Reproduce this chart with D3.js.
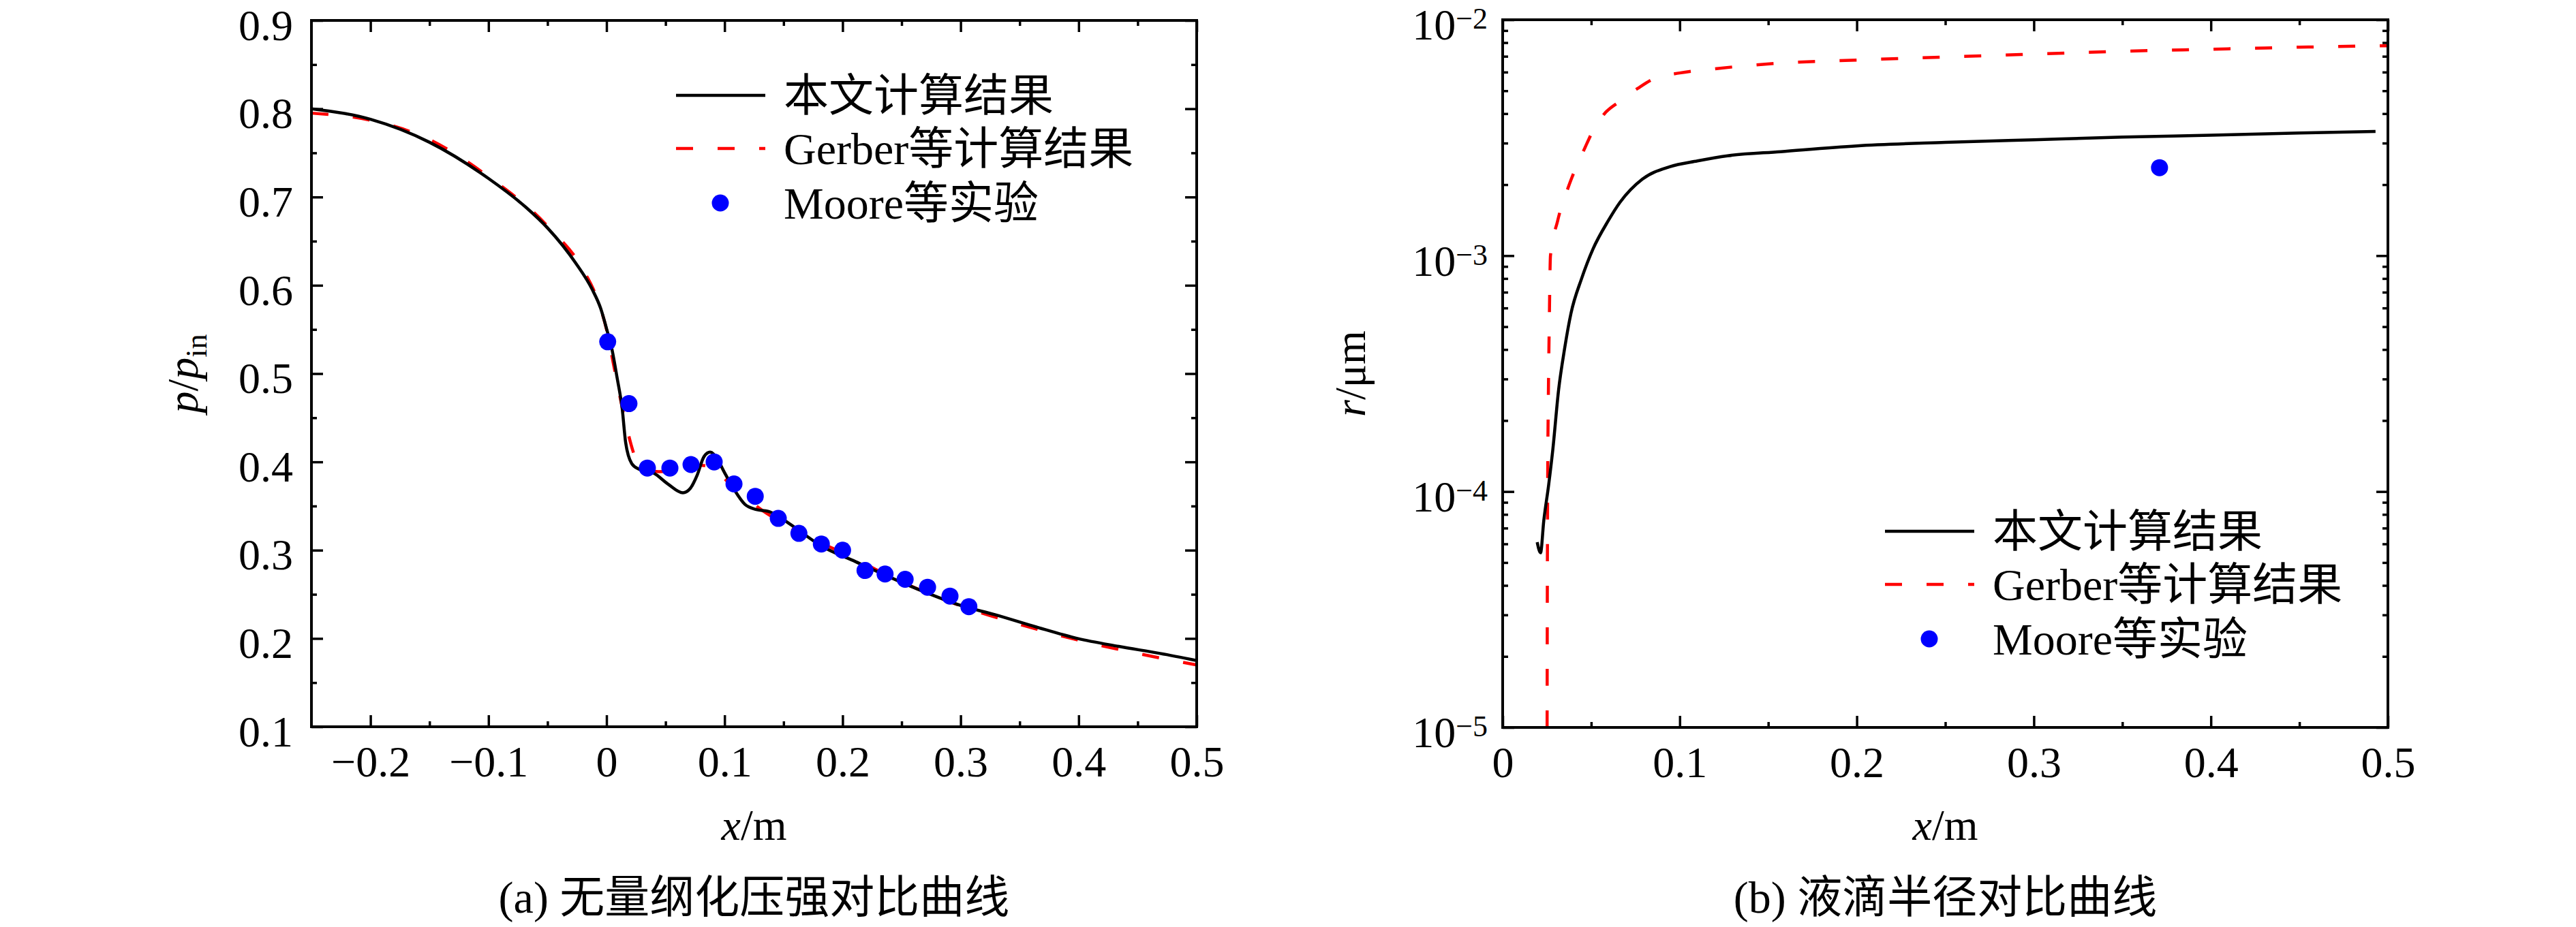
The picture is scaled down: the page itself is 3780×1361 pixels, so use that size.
<!DOCTYPE html>
<html>
<head>
<meta charset="utf-8">
<script src="https://cdn.jsdelivr.net/npm/d3@7"></script>
<style>
  body { margin: 0; background: #fff; }
  svg { display: block; }
  text { font-family: "Liberation Serif", "Times New Roman", "Noto Sans CJK SC", serif; fill: #000; }
</style>
</head>
<body>
<svg id="chart" width="3780" height="1361"></svg>
<script>
// legend names
const seriesNames = ["本文计算结果", "Gerber等计算结果", "Moore等实验"];

// (a) p/p_in along x (m)
const pressureOurs = [
  [-0.25, 0.800], [-0.2, 0.788], [-0.15, 0.762], [-0.1, 0.721], [-0.068, 0.688], [-0.05, 0.665],
  [-0.026, 0.625], [-0.012, 0.595], [-0.005, 0.574], [0, 0.551], [0.005, 0.525], [0.009, 0.495],
  [0.0133, 0.46], [0.0162, 0.422], [0.0214, 0.398], [0.0271, 0.392], [0.0404, 0.387], [0.052, 0.375],
  [0.0647, 0.365], [0.071, 0.370], [0.0768, 0.385], [0.0826, 0.406], [0.0878, 0.411], [0.0935, 0.404],
  [0.0999, 0.388], [0.108, 0.369], [0.1172, 0.352], [0.127, 0.346], [0.1368, 0.344], [0.146, 0.338],
  [0.156, 0.329], [0.183, 0.304], [0.211, 0.287], [0.239, 0.270], [0.267, 0.254], [0.301, 0.237],
  [0.329, 0.227], [0.364, 0.213], [0.399, 0.200], [0.434, 0.191], [0.469, 0.183], [0.5, 0.175]
];
const pressureGerber = [
  [-0.25, 0.795], [-0.2, 0.787], [-0.15, 0.765], [-0.1, 0.723], [-0.05, 0.667], [-0.02, 0.618],
  [-0.008, 0.585], [0, 0.55], [0.006, 0.51], [0.0144, 0.455], [0.0243, 0.405], [0.0296, 0.392],
  [0.0444, 0.389], [0.06, 0.39], [0.0808, 0.396], [0.09, 0.393], [0.097, 0.385], [0.108, 0.370],
  [0.1137, 0.364], [0.131, 0.346], [0.14, 0.338], [0.16, 0.322], [0.2, 0.297], [0.25, 0.264],
  [0.3, 0.237], [0.35, 0.216], [0.4, 0.198], [0.45, 0.183], [0.5, 0.170]
];
const pressureMoore = [
  [0.001, 0.536], [0.019, 0.466], [0.0346, 0.393], [0.0537, 0.393], [0.0716, 0.397], [0.0912, 0.400],
  [0.108, 0.375], [0.126, 0.361], [0.1455, 0.336], [0.163, 0.319], [0.182, 0.307], [0.2, 0.300],
  [0.219, 0.277], [0.236, 0.273], [0.253, 0.267], [0.272, 0.258], [0.291, 0.248], [0.307, 0.236]
];

// (b) droplet radius r along x (m)
const radiusOurs = [
  [0.0195, 6.1e-5], [0.0214, 5.5e-5], [0.0232, 7.5e-5], [0.026, 1.07e-4], [0.0283, 1.5e-4],
  [0.0316, 2.7e-4], [0.0349, 4.0e-4], [0.0386, 5.7e-4], [0.0446, 8.0e-4], [0.0511, 1.07e-3],
  [0.0595, 1.4e-3], [0.0662, 1.68e-3], [0.0789, 2.11e-3], [0.0943, 2.38e-3], [0.11, 2.52e-3],
  [0.127, 2.65e-3], [0.157, 2.76e-3], [0.2, 2.92e-3], [0.25, 3.02e-3], [0.3, 3.1e-3],
  [0.35, 3.18e-3], [0.4, 3.24e-3], [0.45, 3.31e-3], [0.493, 3.36e-3]
];
const radiusGerber = [
  [0.0251, 1e-5], [0.0252, 3e-5], [0.0254, 1e-4], [0.0258, 2.5e-4], [0.0263, 5e-4], [0.027, 1e-3],
  [0.031, 1.4e-3], [0.0377, 2.01e-3], [0.0466, 2.88e-3], [0.0508, 3.36e-3], [0.0574, 3.99e-3],
  [0.0654, 4.47e-3], [0.0762, 5.11e-3], [0.0858, 5.64e-3], [0.1, 5.95e-3], [0.12, 6.2e-3],
  [0.157, 6.55e-3], [0.2, 6.75e-3], [0.25, 6.95e-3], [0.3, 7.15e-3], [0.35, 7.35e-3],
  [0.4, 7.5e-3], [0.45, 7.65e-3], [0.5, 7.76e-3]
];
const radiusMoore = [[0.371, 2.36e-3]];

// ticks
const pressureXTicks = [-0.2, -0.1, 0, 0.1, 0.2, 0.3, 0.4, 0.5];
const pressureXMinor = [-0.15, -0.05, 0.05, 0.15, 0.25, 0.35, 0.45];
const pressureYTicks = [0.1, 0.2, 0.3, 0.4, 0.5, 0.6, 0.7, 0.8, 0.9];
const pressureYMinor = [0.15, 0.25, 0.35, 0.45, 0.55, 0.65, 0.75, 0.85];
const radiusXTicks = [0, 0.1, 0.2, 0.3, 0.4, 0.5];
const radiusXMinor = [0.05, 0.15, 0.25, 0.35, 0.45];
const radiusYTicks = [1e-5, 1e-4, 1e-3, 1e-2];
const radiusYMinor = [1e-5, 1e-4, 1e-3].flatMap(d => [2, 3, 4, 5, 6, 7, 8, 9].map(k => k * d));

const captions = ["(a) 无量纲化压强对比曲线", "(b) 液滴半径对比曲线"];

const svg = d3.select('#chart');
const RED = '#ff0000', BLUE = '#0000ff';

function linFmt(d) { return d === 0 ? '0' : d3.format('.1f')(d); }

function drawPanel(p) {
  const { id, x, y, box, xTicks, xMinor, yTicks, yMinor, yFmt, curves, points, legend, caption } = p;
  const g = svg.append('g').attr('class', id);

  g.append('clipPath').attr('id', 'clip-' + id)
    .append('rect')
    .attr('x', box.left).attr('y', box.top)
    .attr('width', box.right - box.left).attr('height', box.bottom - box.top);

  // axes, ticks pointing inward on all four sides
  const axes = [
    [d3.axisBottom(x).tickValues(xTicks).tickSize(-17).tickFormat(linFmt), `translate(0,${box.bottom})`, 'xlab'],
    [d3.axisBottom(x).tickValues(xMinor).tickSize(-8).tickFormat(''), `translate(0,${box.bottom})`],
    [d3.axisTop(x).tickValues(xTicks).tickSize(-17).tickFormat(''), `translate(0,${box.top})`],
    [d3.axisTop(x).tickValues(xMinor).tickSize(-8).tickFormat(''), `translate(0,${box.top})`],
    [d3.axisLeft(y).tickValues(yTicks).tickSize(-17).tickFormat(yFmt ? () => '' : linFmt), `translate(${box.left},0)`, 'ylab'],
    [d3.axisLeft(y).tickValues(yMinor).tickSize(-8).tickFormat(''), `translate(${box.left},0)`],
    [d3.axisRight(y).tickValues(yTicks).tickSize(-17).tickFormat(''), `translate(${box.right},0)`],
    [d3.axisRight(y).tickValues(yMinor).tickSize(-8).tickFormat(''), `translate(${box.right},0)`]
  ];
  axes.forEach(([ax, tr, cls]) => {
    const a = g.append('g').attr('transform', tr).attr('class', cls || '').call(ax);
    a.select('.domain').remove();
    a.selectAll('.tick line').attr('stroke', '#000').attr('stroke-width', 3.5);
    a.selectAll('.tick text').attr('font-size', 64).attr('font-family', null).attr('fill', '#000');
  });
  g.selectAll('.xlab .tick text').attr('y', 73).attr('dy', 0);
  g.selectAll('.ylab .tick text').attr('x', -27).attr('dy', '0.44em');

  if (yFmt) {
    g.selectAll('.ylab .tick text').each(function (d) {
      const t = d3.select(this).attr('x', -22).attr('dy', '0.45em');
      t.append('tspan').text('10');
      t.append('tspan').attr('dy', '-0.36em').attr('font-size', 44)
        .text('\u2212' + Math.round(-Math.log10(d)));
    });
  }

  const line = d3.line().x(d => x(d[0])).y(d => y(d[1])).curve(d3.curveMonotoneX);
  const plot = g.append('g').attr('clip-path', `url(#clip-${id})`);
  plot.append('path').datum(curves.gerber)
    .attr('d', line).attr('fill', 'none').attr('stroke', RED)
    .attr('stroke-width', 4.5).attr('stroke-dasharray', '25,36');
  plot.append('path').datum(curves.ours)
    .attr('d', line).attr('fill', 'none').attr('stroke', '#000').attr('stroke-width', 4.5);
  plot.selectAll('circle').data(points).join('circle')
    .attr('cx', d => x(d[0])).attr('cy', d => y(d[1])).attr('r', 12.5).attr('fill', BLUE);

  // frame
  g.append('rect')
    .attr('x', box.left).attr('y', box.top)
    .attr('width', box.right - box.left).attr('height', box.bottom - box.top)
    .attr('fill', 'none').attr('stroke', '#000').attr('stroke-width', 4);

  // legend
  const lg = g.append('g').attr('transform', `translate(${legend.x},${legend.y})`);
  lg.append('line').attr('x1', 0).attr('x2', 131).attr('y1', 0).attr('y2', 0)
    .attr('stroke', '#000').attr('stroke-width', 4.5);
  lg.append('line').attr('x1', 0).attr('x2', 131).attr('y1', 78).attr('y2', 78)
    .attr('stroke', RED).attr('stroke-width', 4.5).attr('stroke-dasharray', '25,36');
  lg.append('circle').attr('cx', 65).attr('cy', 158).attr('r', 12.5).attr('fill', BLUE);
  lg.selectAll('text.leg').data(seriesNames).join('text')
    .attr('class', 'leg')
    .attr('x', 158).attr('y', (d, i) => [0, 78, 158][i]).attr('dy', '0.35em')
    .attr('font-size', 66)
    .text(d => d);

  // axis titles
  const cx = (box.left + box.right) / 2, cy = (box.top + box.bottom) / 2;
  const xt = g.append('text').attr('x', cx).attr('y', 1233).attr('text-anchor', 'middle').attr('font-size', 64);
  xt.append('tspan').attr('font-style', 'italic').text('x');
  xt.append('tspan').text('/m');

  const yt = g.append('text')
    .attr('transform', `translate(${p.yTitleX},${cy}) rotate(-90)`)
    .attr('text-anchor', 'middle').attr('font-size', 64);
  p.yTitle(yt);

  g.append('text').attr('x', cx).attr('y', 1340).attr('text-anchor', 'middle')
    .attr('font-size', 66).text(caption);
}

drawPanel({
  id: 'a',
  box: { left: 457, right: 1756, top: 30, bottom: 1067 },
  x: d3.scaleLinear().domain([-0.25, 0.5]).range([457, 1756]),
  y: d3.scaleLinear().domain([0.1, 0.9]).range([1067, 30]),
  xTicks: pressureXTicks, xMinor: pressureXMinor,
  yTicks: pressureYTicks, yMinor: pressureYMinor,
  curves: { ours: pressureOurs, gerber: pressureGerber },
  points: pressureMoore,
  legend: { x: 992, y: 140 },
  caption: captions[0],
  yTitleX: 290,
  yTitle: t => {
    t.append('tspan').attr('font-style', 'italic').text('p');
    t.append('tspan').text('/');
    t.append('tspan').attr('font-style', 'italic').text('p');
    t.append('tspan').attr('font-size', 44).attr('dy', '0.3em').text('in');
  }
});

drawPanel({
  id: 'b',
  box: { left: 2205, right: 3504, top: 29, bottom: 1068 },
  x: d3.scaleLinear().domain([0, 0.5]).range([2205, 3504]),
  y: d3.scaleLog().domain([1e-5, 1e-2]).range([1068, 29]),
  xTicks: radiusXTicks, xMinor: radiusXMinor,
  yTicks: radiusYTicks, yMinor: radiusYMinor,
  yFmt: 'pow',
  curves: { ours: radiusOurs, gerber: radiusGerber },
  points: radiusMoore,
  legend: { x: 2766, y: 780 },
  caption: captions[1],
  yTitleX: 2003,
  yTitle: t => {
    t.append('tspan').attr('font-style', 'italic').text('r');
    t.append('tspan').text('/\u03bcm');
  }
});
</script>
</body>
</html>
